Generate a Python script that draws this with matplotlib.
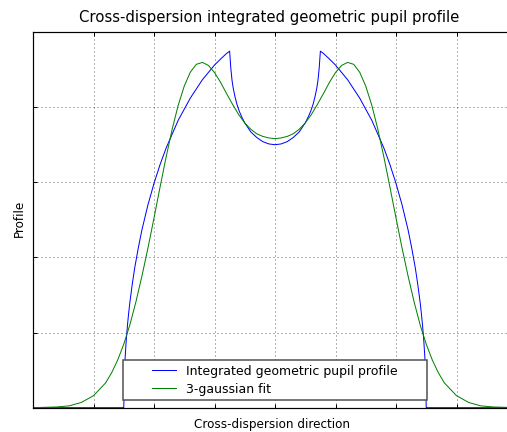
import matplotlib
matplotlib.use("Agg")
import matplotlib.pyplot as plt
from matplotlib.patches import Rectangle

DPI = 100


def px(v):
    """Convert a size in pixels to points for this figure."""
    return v * 72.0 / DPI


plt.rcParams["lines.scale_dashes"] = False
plt.rcParams["font.family"] = ["DejaVu Sans"]

# Integrated geometric pupil profile across the cross-dispersion direction
profile_x = [-4.0, -2.5, -2.48, -2.46, -2.44, -2.42, -2.4, -2.36, -2.32, -2.26,
             -2.2, -2.1, -2.0, -1.9, -1.8, -1.6, -1.4, -1.2, -1.0, -0.9,
             -0.8, -0.75, -0.73, -0.71, -0.69, -0.66, -0.63, -0.59, -0.55, -0.5,
             -0.4, -0.3, -0.2, -0.1, 0.0,
             0.1, 0.2, 0.3, 0.4, 0.5, 0.55, 0.59, 0.63, 0.66, 0.69,
             0.71, 0.73, 0.75, 0.8, 0.9, 1.0, 1.2, 1.4, 1.6, 1.8,
             1.9, 2.0, 2.1, 2.2, 2.26, 2.32, 2.36, 2.4, 2.42, 2.44,
             2.46, 2.48, 2.5, 4.0]
profile_y = [0.0, 0.0, 0.126, 0.177, 0.217, 0.250, 0.279, 0.328, 0.371, 0.425,
             0.473, 0.540, 0.597, 0.647, 0.691, 0.765, 0.824, 0.873, 0.912, 0.928,
             0.943, 0.949, 0.903, 0.871, 0.850, 0.827, 0.808, 0.789, 0.774, 0.758,
             0.734, 0.719, 0.708, 0.702, 0.700,
             0.702, 0.708, 0.719, 0.734, 0.758, 0.774, 0.789, 0.808, 0.827, 0.850,
             0.871, 0.903, 0.949, 0.943, 0.928, 0.912, 0.873, 0.824, 0.765, 0.691,
             0.647, 0.597, 0.540, 0.473, 0.425, 0.371, 0.328, 0.279, 0.250, 0.217,
             0.177, 0.126, 0.0, 0.0]

# 3-gaussian fit to the profile
fit_x = [-4.0, -3.8, -3.6, -3.4, -3.2, -3.0, -2.8, -2.7, -2.6, -2.5,
         -2.4, -2.3, -2.2, -2.1, -2.0, -1.9, -1.8, -1.7, -1.6, -1.5,
         -1.4, -1.3, -1.2, -1.1, -1.0, -0.9, -0.8, -0.7, -0.6, -0.5,
         -0.4, -0.3, -0.2, -0.1, 0.0,
         0.1, 0.2, 0.3, 0.4, 0.5, 0.6, 0.7, 0.8, 0.9, 1.0,
         1.1, 1.2, 1.3, 1.4, 1.5, 1.6, 1.7, 1.8, 1.9, 2.0,
         2.1, 2.2, 2.3, 2.4, 2.5, 2.6, 2.7, 2.8, 3.0, 3.2,
         3.4, 3.6, 3.8, 4.0]
fit_y = [0.000, 0.001, 0.002, 0.005, 0.014, 0.032, 0.066, 0.093, 0.127, 0.169,
         0.220, 0.281, 0.350, 0.425, 0.505, 0.587, 0.667, 0.741, 0.805, 0.856,
         0.893, 0.914, 0.919, 0.911, 0.892, 0.866, 0.836, 0.807, 0.780, 0.758,
         0.741, 0.729, 0.722, 0.718, 0.716,
         0.718, 0.722, 0.729, 0.741, 0.758, 0.780, 0.807, 0.836, 0.866, 0.892,
         0.911, 0.919, 0.914, 0.893, 0.856, 0.805, 0.741, 0.667, 0.587, 0.505,
         0.425, 0.350, 0.281, 0.220, 0.169, 0.127, 0.093, 0.066, 0.032, 0.014,
         0.005, 0.002, 0.001, 0.000]

series_labels = ["Integrated geometric pupil profile", "3-gaussian fit"]
x_ticks = [-4, -3, -2, -1, 0, 1, 2, 3, 4]
y_ticks = [0.0, 0.2, 0.4, 0.6, 0.8, 1.0]

fig = plt.figure(figsize=(507 / DPI, 432 / DPI), dpi=DPI, facecolor="white")
ax = fig.add_axes([33 / 507, 24.3 / 432, 484 / 507, 375.7 / 432])

ax.plot(profile_x, profile_y, color=(0, 0, 1), lw=px(1.0), label=series_labels[0])
ax.plot(fit_x, fit_y, color=(0, 0.5, 0), lw=px(1.0), label=series_labels[1])

ax.set_xlim(x_ticks[0], x_ticks[-1])
ax.set_ylim(y_ticks[0], y_ticks[-1])
ax.set_xticks(x_ticks)
ax.set_yticks(y_ticks)
ax.set_xticklabels([])
ax.set_yticklabels([])
ax.tick_params(direction="in", top=True, right=True, length=px(4), width=px(1),
               color="black")
ax.grid(True, color="black", lw=px(0.6), linestyle=(0, (px(1), px(3))))
for sp in ax.spines.values():
    sp.set_linewidth(px(1.2))
    sp.set_color("black")

ax.set_title("Cross-dispersion integrated geometric pupil profile",
             fontsize=px(14.9), x=0.487, y=1.0274, pad=0)
ax.set_xlabel("Cross-dispersion direction", fontsize=px(12), va="baseline")
ax.xaxis.set_label_coords(0.494, -0.0532)
ax.set_ylabel("Profile", fontsize=px(12), va="center")
ax.yaxis.set_label_coords(-0.0279, 0.504)

# legend box spanning the profile footprint
ax.add_patch(Rectangle((0.1853, 0.0205), 0.8134 - 0.1853, 0.127 - 0.0205,
                       transform=ax.transAxes, facecolor="white",
                       edgecolor="0.3", lw=px(1.5), zorder=4))
ax.legend(loc="center", bbox_to_anchor=(0.5, 0.0737), frameon=False,
          fontsize=px(12.5), handlelength=1.92, handletextpad=0.78,
          labelspacing=0.4, borderpad=0.0)

fig.savefig("out.png", dpi=DPI, facecolor="white")
